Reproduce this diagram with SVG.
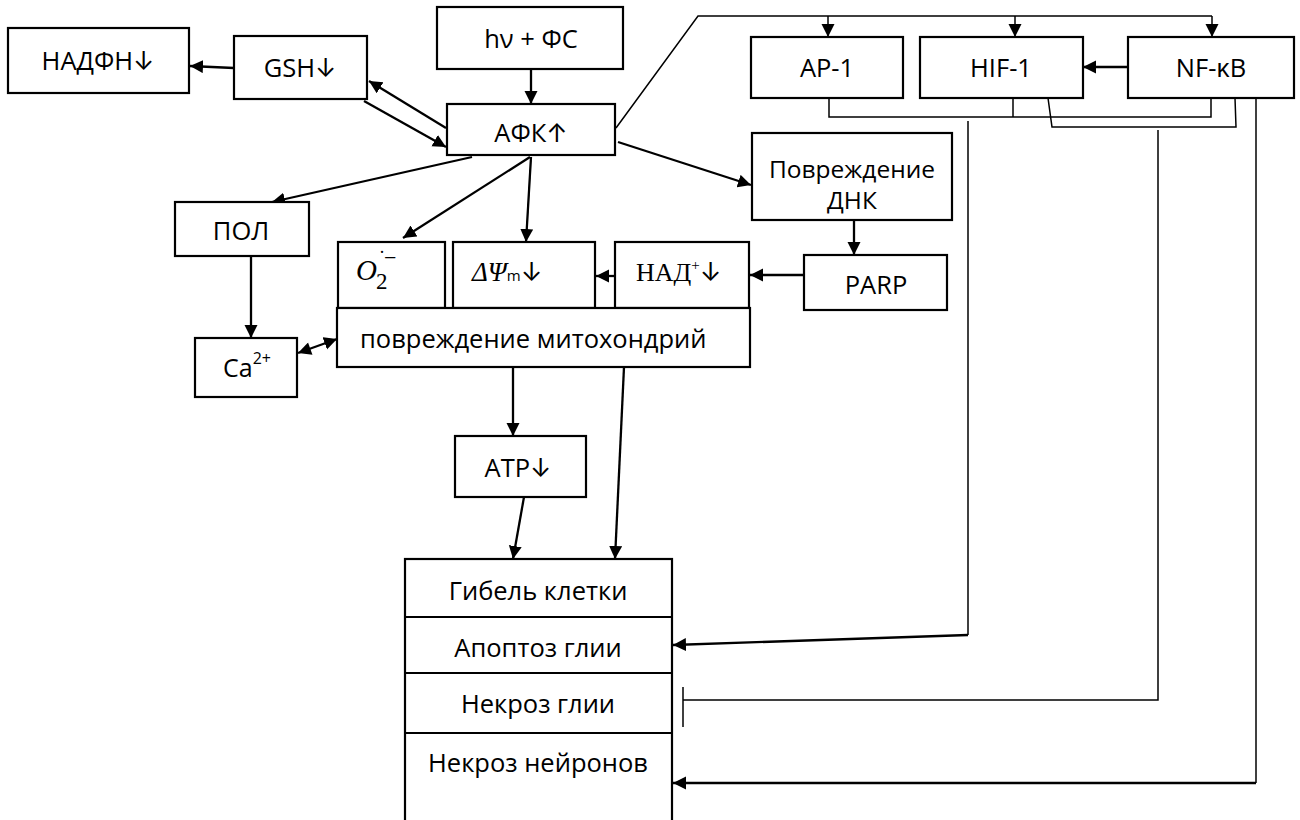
<svg xmlns="http://www.w3.org/2000/svg" width="1300" height="820" viewBox="0 0 1300 820">
<style>
.box{fill:#fff;stroke:#000;stroke-width:2.2}
.t{font-family:"Open Sans","Noto Sans","DejaVu Sans",sans-serif;font-size:25.5px;fill:#000;text-anchor:middle;dominant-baseline:central}
.s{font-family:"Liberation Serif","DejaVu Serif",serif;fill:#000}
.ar{font-family:"Inter","Noto Sans CJK SC",sans-serif}
.a{fill:none;stroke:#000;stroke-width:2.3;marker-end:url(#ah)}
.l{fill:none;stroke:#000;stroke-width:1.5}
.la{fill:none;stroke:#000;stroke-width:1.5;marker-end:url(#ah)}
</style>
<defs>
<marker id="ah" markerUnits="userSpaceOnUse" markerWidth="14" markerHeight="14" refX="13" refY="6.5" orient="auto">
<path d="M0,0 L13,6.5 L0,13 Z" fill="#000"/>
</marker>
<marker id="as" markerUnits="userSpaceOnUse" markerWidth="14" markerHeight="14" refX="0" refY="6.5" orient="auto">
<path d="M13,0 L0,6.5 L13,13 Z" fill="#000"/>
</marker>
</defs>
<rect width="1300" height="820" fill="#fff"/>

<g id="connectors">
<line class="a" x1="234" y1="68" x2="190" y2="66"/>
<line class="a" x1="446" y1="128" x2="369" y2="81"/>
<line class="a" x1="364" y1="101" x2="446" y2="147"/>
<line class="a" x1="531" y1="69" x2="531" y2="104"/>
<line class="a" x1="472" y1="157" x2="272" y2="202"/>
<line class="a" x1="530" y1="157" x2="403" y2="238"/>
<line class="a" x1="531" y1="157" x2="526" y2="242"/>
<line class="a" x1="618" y1="142" x2="751" y2="185"/>
<polyline class="l" points="616,128 698,16 1212,16"/>
<line class="la" x1="828" y1="16" x2="828" y2="37"/>
<line class="la" x1="1015" y1="16" x2="1015" y2="37"/>
<line class="la" x1="1212" y1="16" x2="1212" y2="37"/>
<line class="a" x1="1128" y1="67" x2="1083" y2="67"/>
<line class="a" x1="854" y1="220" x2="854" y2="255"/>
<line class="a" x1="804" y1="275" x2="750" y2="275"/>
<line class="a" x1="615" y1="276" x2="596" y2="276"/>
<line class="a" x1="251" y1="256" x2="251" y2="338"/>
<line class="a" x1="298" y1="353" x2="337" y2="339" marker-start="url(#as)"/>
<line class="a" x1="513" y1="367" x2="513" y2="436"/>
<line class="a" x1="624" y1="367" x2="615" y2="559"/>
<line class="a" x1="524" y1="497" x2="513" y2="559"/>
<polyline class="l" points="829,98 829,117 1211,117 1211,98"/>
<line class="l" x1="1013" y1="98" x2="1013" y2="117"/>
<polyline class="l" points="1048,98 1052,127 1236,127 1235,98"/>
<line class="l" x1="968" y1="121" x2="968" y2="635"/>
<line class="a" x1="968" y1="635" x2="673" y2="645"/>
<polyline class="l" points="1158,130 1158,700 683,700"/>
<line class="l" x1="683" y1="687" x2="683" y2="727"/>
<line class="l" x1="1256" y1="98" x2="1256" y2="783"/>
<line class="a" x1="1256" y1="783" x2="673" y2="783"/>
</g>

<g id="nadph"><rect class="box" x="8" y="28" width="181" height="65"/><text class="t" x="98" y="60">НАДФН<tspan class="ar">↓</tspan></text></g>
<g id="gsh"><rect class="box" x="234" y="36" width="133" height="63"/><text class="t" x="300" y="67">GSH<tspan class="ar">↓</tspan></text></g>
<g id="hv"><rect class="box" x="437" y="7" width="186" height="62"/><text class="t" x="531" y="38">hν + ФС</text></g>
<g id="afk"><rect class="box" x="447" y="104" width="168" height="51"/><text class="t" x="531" y="132">АФК<tspan class="ar">↑</tspan></text></g>
<g id="ap1"><rect class="box" x="751" y="37" width="152" height="61"/><text class="t" x="827" y="67">AP-1</text></g>
<g id="hif1"><rect class="box" x="920" y="37" width="163" height="61"/><text class="t" x="1001" y="67">HIF-1</text></g>
<g id="nfkb"><rect class="box" x="1128" y="37" width="166" height="61"/><text class="t" x="1211" y="67">NF-κB</text></g>
<g id="dna"><rect class="box" x="752" y="133" width="200" height="87"/><text class="t" x="852" y="168" style="font-size:24.5px">Повреждение</text><text class="t" x="852" y="199" style="font-size:24.5px">ДНК</text></g>
<g id="pol"><rect class="box" x="175" y="202" width="134" height="54"/><text class="t" x="241" y="230">ПОЛ</text></g>
<g id="o2"><rect class="box" x="338" y="242" width="107" height="66"/>
<text class="s" x="356" y="280" font-size="29" font-style="italic">O</text>
<text class="s" x="376" y="289" font-size="23">2</text>
<text class="s" x="379" y="258" font-size="18">·</text>
<text class="s" x="384" y="265" font-size="22">−</text>
</g>
<g id="dpsi"><rect class="box" x="453" y="242" width="142" height="66"/>
<text x="472" y="281" fill="#000"><tspan class="s" font-size="27" font-style="italic">ΔΨ</tspan><tspan font-family="Open Sans, sans-serif" font-size="15">m</tspan><tspan class="ar" font-size="26">↓</tspan></text>
</g>
<g id="nad"><rect class="box" x="615" y="242" width="134" height="66"/>
<text x="636" y="281" fill="#000"><tspan class="s" font-size="26">НАД</tspan><tspan class="s" font-size="15" dy="-11">+</tspan><tspan class="ar" font-size="26" dy="11">↓</tspan></text>
</g>
<g id="parp"><rect class="box" x="804" y="255" width="143" height="55"/><text class="t" x="876" y="284">PARP</text></g>
<g id="mito"><rect class="box" x="337" y="308" width="413" height="59"/><text class="t" x="360" y="338" style="text-anchor:start">повреждение митохондрий</text></g>
<g id="ca"><rect class="box" x="195" y="338" width="102" height="59"/><text x="223" y="377" fill="#000" font-family="Open Sans, sans-serif" font-size="25">Ca<tspan font-size="16" dy="-13">2+</tspan></text></g>
<g id="atp"><rect class="box" x="455" y="436" width="131" height="61"/><text class="t" x="518" y="467">ATP<tspan class="ar">↓</tspan></text></g>
<g id="death">
<rect class="box" x="405" y="559" width="267" height="275"/>
<line x1="405" y1="617" x2="672" y2="617" stroke="#000" stroke-width="2.2"/>
<line x1="405" y1="673" x2="672" y2="673" stroke="#000" stroke-width="2.2"/>
<line x1="405" y1="733" x2="672" y2="733" stroke="#000" stroke-width="2.2"/>
<text class="t" x="538" y="590">Гибель клетки</text>
<text class="t" x="538" y="647">Апоптоз глии</text>
<text class="t" x="538" y="703">Некроз глии</text>
<text class="t" x="538" y="762">Некроз нейронов</text>
</g>
</svg>
